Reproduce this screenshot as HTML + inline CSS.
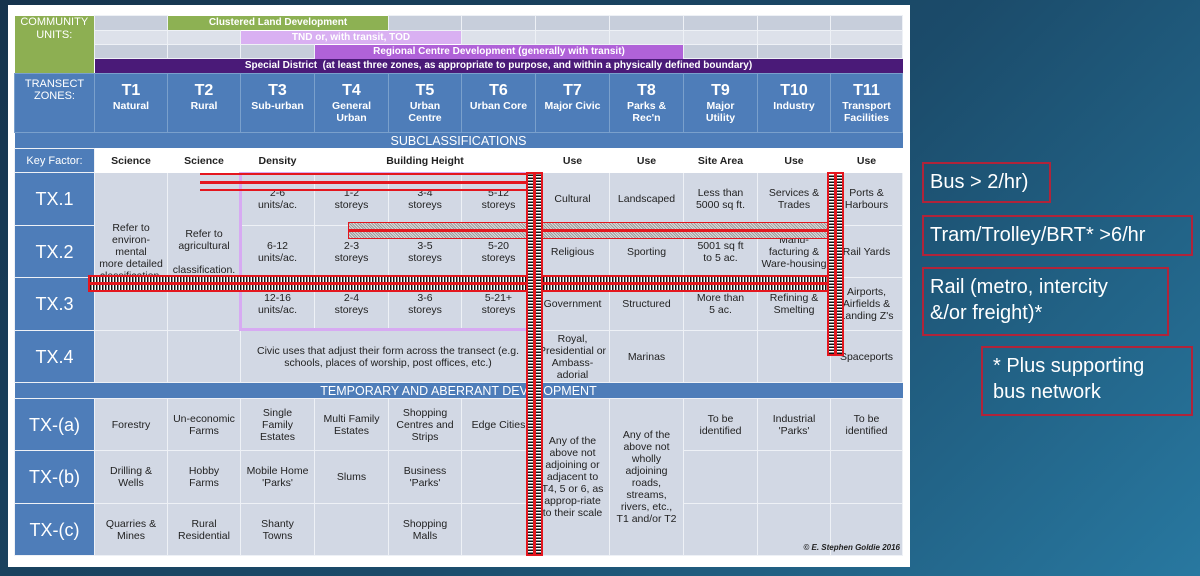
<!DOCTYPE html>
<html><head><meta charset="utf-8"><style>
*{margin:0;padding:0;box-sizing:border-box}
body{width:1200px;height:576px;overflow:hidden;position:relative;background:linear-gradient(135deg,#16344d 0%,#1b4b6a 55%,#2878a0 100%);font-family:"Liberation Sans",Arial,sans-serif}
#panel{position:absolute;left:8px;top:5px;width:902px;height:562px;background:#fff}
table{position:absolute;left:14px;top:15px;border-collapse:collapse;table-layout:fixed;width:888px}
td{border:1px solid #eef1f6;text-align:center;vertical-align:middle;font-size:10.5px;color:#222;line-height:12px;padding:0;overflow:hidden;background:#d2d8e4}
td.lab{background:#4e7db9;color:#fff;font-size:18px}
td.hd{background:#4e7db9;color:#fff;border-color:#7aa0cc;font-weight:bold;font-size:10.5px;line-height:12px}
td.hd b{font-size:16px;display:block;line-height:18px}
td.cu{background:#8daf52;color:#fff;font-size:11px;vertical-align:top;line-height:13px;border:none}
.g1{background:#c7cedb}.g2{background:#dde1ea}
td.band{color:#fff;font-size:10px;font-weight:bold;border:none;line-height:12px}
td.sub{background:#4e7db9;color:#fff;font-size:12.5px;border:none}
td.kf{background:#fff;font-weight:bold;border-color:#fff}
td.kfl{background:#4e7db9;color:#fff;font-size:11px}
.ab{position:absolute}
.box{position:absolute;border:2px solid #b0243a;color:#fff;font-size:20px;line-height:26px;padding:5px 6px;font-family:"Liberation Sans",sans-serif}
</style></head><body>
<div id="panel"></div>
<table>
<colgroup><col style="width:80px"><col style="width:73px"><col style="width:73px"><col style="width:74px"><col style="width:74px"><col style="width:73px"><col style="width:74px"><col style="width:74px"><col style="width:74px"><col style="width:74px"><col style="width:73px"><col style="width:72px"></colgroup>
<tr style="height:15px"><td class="cu" rowspan="4">COMMUNITY<br>UNITS:</td><td class="g1"></td><td class="band" colspan="3" style="background:#8db153">Clustered Land Development</td><td class="g1"></td><td class="g1"></td><td class="g1"></td><td class="g1"></td><td class="g1"></td><td class="g1"></td><td class="g1"></td></tr>
<tr style="height:14px"><td class="g2"></td><td class="g2"></td><td class="band" colspan="3" style="background:#d9b0f2">TND or, with transit, TOD</td><td class="g2"></td><td class="g2"></td><td class="g2"></td><td class="g2"></td><td class="g2"></td><td class="g2"></td></tr>
<tr style="height:14px"><td class="g1"></td><td class="g1"></td><td class="g1"></td><td class="band" colspan="5" style="background:#b062d8">Regional Centre Development (generally with transit)</td><td class="g1"></td><td class="g1"></td><td class="g1"></td></tr>
<tr style="height:15px"><td class="band" colspan="11" style="background:#4a1a78">Special District &nbsp;(at least three zones, as appropriate to purpose, and within a physically defined boundary)</td></tr>
<tr style="height:59px"><td class="hd" style="vertical-align:top;font-weight:normal;font-size:11px;padding-top:4px">TRANSECT<br>ZONES:</td>
<td class="hd"><b>T1</b>Natural<br>&nbsp;</td><td class="hd"><b>T2</b>Rural<br>&nbsp;</td><td class="hd"><b>T3</b>Sub-urban<br>&nbsp;</td><td class="hd"><b>T4</b>General<br>Urban</td><td class="hd"><b>T5</b>Urban<br>Centre</td><td class="hd"><b>T6</b>Urban Core<br>&nbsp;</td><td class="hd"><b>T7</b>Major Civic<br>&nbsp;</td><td class="hd"><b>T8</b>Parks &amp;<br>Rec'n</td><td class="hd"><b>T9</b>Major<br>Utility</td><td class="hd"><b>T10</b>Industry<br>&nbsp;</td><td class="hd"><b>T11</b>Transport<br>Facilities</td></tr>
<tr style="height:16px"><td class="sub" colspan="12">SUBCLASSIFICATIONS</td></tr>
<tr style="height:24px"><td class="kfl">Key Factor:</td><td class="kf">Science</td><td class="kf">Science</td><td class="kf">Density</td><td class="kf" colspan="3">Building Height</td><td class="kf">Use</td><td class="kf">Use</td><td class="kf">Site Area</td><td class="kf">Use</td><td class="kf">Use</td></tr>
<tr style="height:53px"><td class="lab">TX.1</td><td rowspan="3">Refer to environ-<br>mental<br>more detailed classification.</td><td rowspan="3">Refer to agricultural<br>&nbsp;<br>classification.</td><td>2-6<br>units/ac.</td><td>1-2<br>storeys</td><td>3-4<br>storeys</td><td>5-12<br>storeys</td><td>Cultural</td><td>Landscaped</td><td>Less than<br>5000 sq ft.</td><td>Services &amp;<br>Trades</td><td>Ports &amp;<br>Harbours</td></tr>
<tr style="height:52px"><td class="lab">TX.2</td><td>6-12<br>units/ac.</td><td>2-3<br>storeys</td><td>3-5<br>storeys</td><td>5-20<br>storeys</td><td>Religious</td><td>Sporting</td><td>5001 sq ft<br>to 5 ac.</td><td>Manu-<br>facturing &amp;<br>Ware-housing</td><td>Rail Yards</td></tr>
<tr style="height:53px"><td class="lab">TX.3</td><td>12-16<br>units/ac.</td><td>2-4<br>storeys</td><td>3-6<br>storeys</td><td>5-21+<br>storeys</td><td>Government</td><td>Structured</td><td>More than<br>5 ac.</td><td>Refining &amp;<br>Smelting</td><td>Airports,<br>Airfields &amp;<br>Landing Z's</td></tr>
<tr style="height:52px"><td class="lab">TX.4</td><td></td><td></td><td colspan="4">Civic uses that adjust their form across the transect (e.g.<br>schools, places of worship, post offices, etc.)</td><td>Royal,<br>Presidential or<br>Ambass-<br>adorial</td><td>Marinas</td><td></td><td></td><td>Spaceports</td></tr>
<tr style="height:16px"><td class="sub" colspan="12">TEMPORARY AND ABERRANT DEVELOPMENT</td></tr>
<tr style="height:52px"><td class="lab">TX-(a)</td><td>Forestry</td><td>Un-economic<br>Farms</td><td>Single<br>Family<br>Estates</td><td>Multi Family<br>Estates</td><td>Shopping<br>Centres and<br>Strips</td><td>Edge Cities</td><td rowspan="3">Any of the<br>above not<br>adjoining or<br>adjacent to<br>T4, 5 or 6, as<br>approp-riate<br>to their scale</td><td rowspan="3">Any of the<br>above not<br>wholly<br>adjoining<br>roads,<br>streams,<br>rivers, etc.,<br>T1 and/or T2</td><td>To be<br>identified</td><td>Industrial<br>'Parks'</td><td>To be<br>identified</td></tr>
<tr style="height:53px"><td class="lab">TX-(b)</td><td>Drilling &amp;<br>Wells</td><td>Hobby<br>Farms</td><td>Mobile Home<br>'Parks'</td><td>Slums</td><td>Business<br>'Parks'</td><td></td><td></td><td></td><td></td></tr>
<tr style="height:52px"><td class="lab">TX-(c)</td><td>Quarries &amp;<br>Mines</td><td>Rural<br>Residential</td><td>Shanty<br>Towns</td><td></td><td>Shopping<br>Malls</td><td></td><td></td><td></td><td></td></tr>
</table>
<div class="ab" style="left:780px;top:543px;width:120px;text-align:right;font-size:8px;font-style:italic;font-weight:bold;color:#222;white-space:nowrap">© E. Stephen Goldie 2016</div>
<!-- purple outline -->
<div class="ab" style="left:239px;top:172px;width:292px;height:159px;border:3px solid #d7aaf2"></div>
<!-- bus lines -->
<div class="ab" style="left:200px;top:173px;width:340px;height:2px;background:#e4161e"></div>
<div class="ab" style="left:200px;top:181px;width:340px;height:3px;background:#e4161e"></div>
<div class="ab" style="left:200px;top:189px;width:340px;height:2px;background:#e4161e"></div>
<!-- tram -->
<div class="ab" style="left:348px;top:222px;width:490px;height:17px;border:1px solid #e4161e;background:repeating-linear-gradient(45deg,#999 0 1px,#ddd 1px 2px)"></div>
<div class="ab" style="left:348px;top:229px;width:490px;height:3px;background:#e4161e"></div>
<!-- rail horizontal -->
<div class="ab" style="left:88px;top:275px;width:742px;height:17px;border:2px solid #e4161e;background:repeating-linear-gradient(90deg,#111 0 1.5px,#fff 1.5px 3px)"></div>
<div class="ab" style="left:88px;top:282px;width:742px;height:3px;background:#e4161e"></div>
<!-- rail vertical 1 -->
<div class="ab" style="left:526px;top:172px;width:17px;height:384px;border:2px solid #e4161e;background:repeating-linear-gradient(0deg,#111 0 1.5px,#fff 1.5px 3px)"></div>
<div class="ab" style="left:533px;top:172px;width:3px;height:384px;background:#e4161e"></div>
<!-- rail vertical 2 -->
<div class="ab" style="left:827px;top:172px;width:17px;height:184px;border:2px solid #e4161e;background:repeating-linear-gradient(0deg,#111 0 1.5px,#fff 1.5px 3px)"></div>
<div class="ab" style="left:834px;top:172px;width:3px;height:184px;background:#e4161e"></div>
<!-- legend -->
<div class="box" style="left:922px;top:162px;width:129px;height:41px">Bus &gt; 2/hr)</div>
<div class="box" style="left:922px;top:215px;width:271px;height:41px">Tram/Trolley/BRT* &gt;6/hr</div>
<div class="box" style="left:922px;top:267px;width:247px;height:69px">Rail (metro, intercity<br>&amp;/or freight)*</div>
<div class="box" style="left:981px;top:346px;width:212px;height:70px;padding-left:10px">* Plus supporting<br>bus network</div>
</body></html>
